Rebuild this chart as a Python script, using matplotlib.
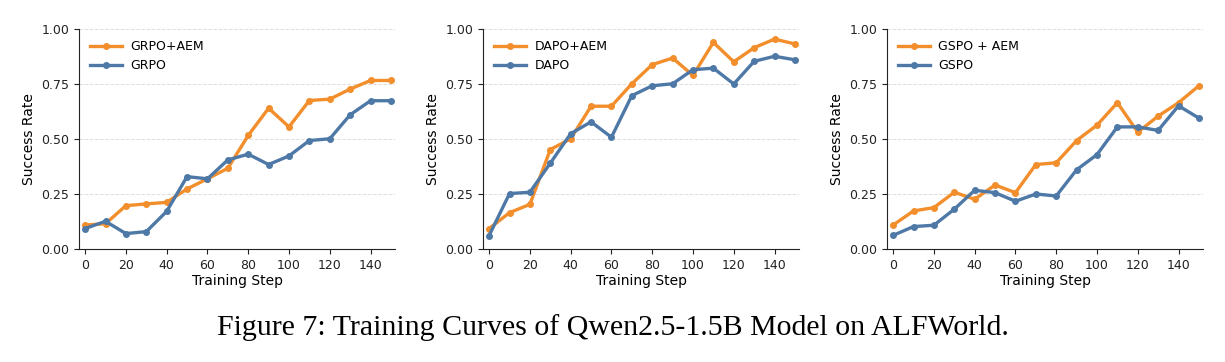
import matplotlib
matplotlib.use("Agg")
import matplotlib.pyplot as plt

steps = [0, 10, 20, 30, 40, 50, 60, 70, 80, 90, 100, 110, 120, 130, 140, 150]

grpo_aem = [0.109, 0.115, 0.197, 0.205, 0.212, 0.273, 0.319, 0.367, 0.516, 0.640, 0.555, 0.675, 0.681, 0.727, 0.766, 0.766]
grpo     = [0.093, 0.126, 0.070, 0.079, 0.171, 0.329, 0.319, 0.405, 0.431, 0.384, 0.423, 0.493, 0.501, 0.610, 0.674, 0.674]

dapo_aem = [0.093, 0.165, 0.203, 0.452, 0.501, 0.649, 0.649, 0.751, 0.838, 0.868, 0.789, 0.939, 0.851, 0.915, 0.954, 0.932]
dapo     = [0.061, 0.252, 0.258, 0.390, 0.524, 0.578, 0.508, 0.697, 0.742, 0.751, 0.815, 0.822, 0.750, 0.853, 0.876, 0.860]

gspo_aem = [0.109, 0.173, 0.188, 0.258, 0.226, 0.291, 0.256, 0.384, 0.392, 0.493, 0.563, 0.665, 0.531, 0.604, 0.665, 0.742]
gspo     = [0.062, 0.102, 0.108, 0.181, 0.267, 0.256, 0.217, 0.250, 0.241, 0.360, 0.429, 0.555, 0.555, 0.539, 0.651, 0.595]

panels = [
    ("GRPO+AEM", grpo_aem, "GRPO", grpo),
    ("DAPO+AEM", dapo_aem, "DAPO", dapo),
    ("GSPO + AEM", gspo_aem, "GSPO", gspo),
]
caption = "Figure 7: Training Curves of Qwen2.5-1.5B Model on ALFWorld."

ORANGE = "#f28e2b"
BLUE = "#4e79a7"

fig = plt.figure(figsize=(12.25, 3.62), dpi=100)
lefts = [79, 483, 887]
W, H = 1225, 362
ax_w = 316
top, bottom = 29, 249

for left, (l1, d1, l2, d2) in zip(lefts, panels):
    ax = fig.add_axes([left / W, 1 - bottom / H, ax_w / W, (bottom - top) / H])
    ax.plot(steps, d1, color=ORANGE, lw=2.4, marker="o", ms=4, label=l1, zorder=3)
    ax.plot(steps, d2, color=BLUE, lw=2.4, marker="o", ms=4, label=l2, zorder=3)
    ax.set_xlim(-3, 152)
    ax.set_ylim(0, 1.0)
    ax.set_yticks([0, 0.25, 0.5, 0.75, 1.0])
    ax.set_xticks([0, 20, 40, 60, 80, 100, 120, 140])
    ax.tick_params(labelsize=9, length=3.5, width=0.8, colors="#222222")
    ax.grid(axis="y", ls="--", color="#dddddd", lw=0.7)
    ax.set_axisbelow(True)
    for s in ["top", "right"]:
        ax.spines[s].set_visible(False)
    for s in ["left", "bottom"]:
        ax.spines[s].set_color("#222222")
    ax.set_xlabel("Training Step", fontsize=10, labelpad=2)
    ax.set_ylabel("Success Rate", fontsize=10, labelpad=4)
    ax.legend(loc="upper left", frameon=False, fontsize=9, handlelength=2.5,
              handletextpad=0.7, labelspacing=0.45, bbox_to_anchor=(0.0, 1.0))

fig.text(0.5, 1 - 328 / H, caption, ha="center", va="center",
         fontsize=21.5, family="Liberation Serif")

fig.savefig("out.png", dpi=100)
